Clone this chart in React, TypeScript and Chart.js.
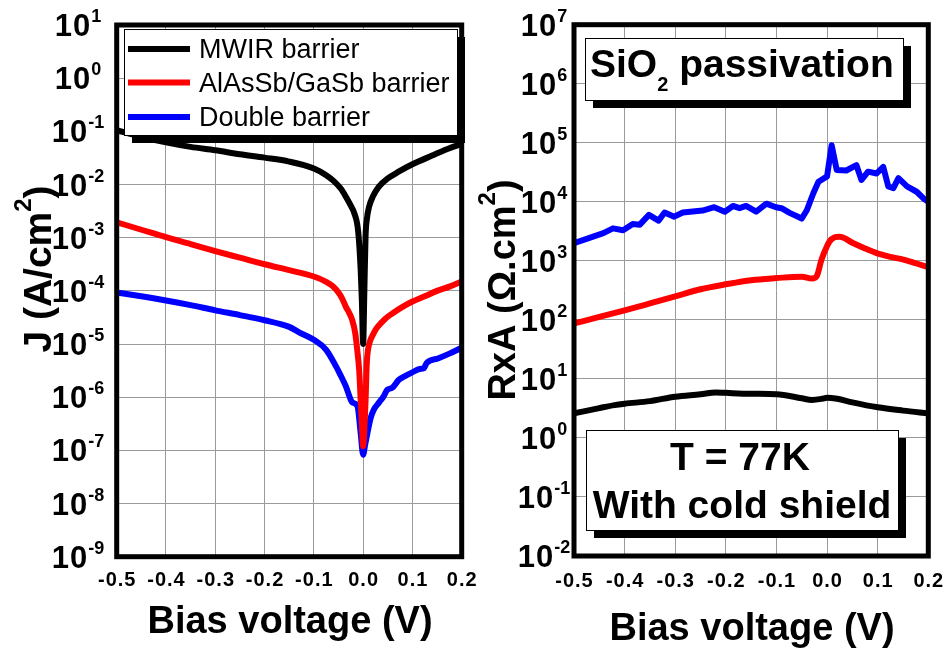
import React, { useEffect, useRef } from 'react';
import { Chart, registerables } from 'chart.js';

Chart.register(...registerables);

const FONT = '"Liberation Sans", Arial, Helvetica, sans-serif';

// ---------- shared axis data ----------
const xTickValues = [-0.5, -0.4, -0.3, -0.2, -0.1, 0, 0.1, 0.2];
const xTickLabels = ['-0.5', '-0.4', '-0.3', '-0.2', '-0.1', '0.0', '0.1', '0.2'];

const seriesNames = ['MWIR barrier', 'AlAsSb/GaSb barrier', 'Double barrier'];
const seriesColors = ['#000000', '#ff0000', '#0000ff'];

// ---------- left panel: J (A/cm2) ----------
const jTickValues = [1e-9, 1e-8, 1e-7, 1e-6, 1e-5, 1e-4, 1e-3, 1e-2, 1e-1, 1e0, 1e1];
const jTickExps = ['-9', '-8', '-7', '-6', '-5', '-4', '-3', '-2', '-1', '0', '1'];

const jMwirV = [-0.5, -0.45, -0.4, -0.35, -0.3, -0.25, -0.2, -0.15, -0.1, -0.075, -0.06, -0.045, -0.035, -0.025, -0.018, -0.01, -0.005, -0.0025, 0, 0.0025, 0.005, 0.0075, 0.012, 0.02, 0.032, 0.05, 0.072, 0.1, 0.14, 0.17, 0.2];
const jMwirJ = [1.05e-1, 7.9e-2, 6.2e-2, 5.1e-2, 4.4e-2, 3.7e-2, 3.2e-2, 2.7e-2, 2.0e-2, 1.5e-2, 1.17e-2, 8.3e-3, 5.9e-3, 4.0e-3, 2.9e-3, 1.3e-3, 2.5e-4, 6.3e-5, 1.0e-5, 1.0e-4, 1.1e-3, 2.2e-3, 3.8e-3, 6.0e-3, 9.1e-3, 1.3e-2, 1.74e-2, 2.4e-2, 3.5e-2, 4.6e-2, 5.8e-2];

const jAlV = [-0.5, -0.45, -0.4, -0.35, -0.3, -0.25, -0.2, -0.15, -0.1, -0.075, -0.062, -0.05, -0.042, -0.035, -0.028, -0.022, -0.016, -0.012, -0.008, -0.005, -0.0025, 0, 0.0025, 0.005, 0.0075, 0.01, 0.015, 0.02, 0.026, 0.035, 0.045, 0.06, 0.08, 0.1, 0.125, 0.15, 0.175, 0.2];
const jAlJ = [1.95e-3, 1.41e-3, 1.02e-3, 7.6e-4, 5.6e-4, 4.2e-4, 3.16e-4, 2.45e-4, 1.86e-4, 1.48e-4, 1.23e-4, 9.3e-5, 7.0e-5, 5.0e-5, 3.8e-5, 2.8e-5, 1.6e-5, 7.8e-6, 3.2e-6, 8.9e-7, 3.2e-7, 1.2e-7, 2.5e-7, 8.9e-7, 4.5e-6, 7.9e-6, 1.2e-5, 1.5e-5, 1.9e-5, 2.4e-5, 3.0e-5, 3.8e-5, 5.0e-5, 6.3e-5, 7.9e-5, 1.0e-4, 1.2e-4, 1.5e-4];

const jDblV = [-0.5, -0.45, -0.4, -0.35, -0.3, -0.25, -0.2, -0.15, -0.13, -0.1, -0.075, -0.055, -0.045, -0.035, -0.025, -0.0215, -0.0115, -0.005, 0, 0.004, 0.0087, 0.015, 0.022, 0.032, 0.042, 0.049, 0.059, 0.072, 0.085, 0.099, 0.115, 0.123, 0.129, 0.153, 0.175, 0.2];
const jDblJ = [9.3e-5, 7.9e-5, 6.6e-5, 5.4e-5, 4.3e-5, 3.5e-5, 2.8e-5, 2.1e-5, 1.66e-5, 1.2e-5, 7.8e-6, 3.8e-6, 2.5e-6, 1.6e-6, 8.9e-7, 7.9e-7, 6.8e-7, 2.1e-7, 8.3e-8, 1.26e-7, 2.1e-7, 4.0e-7, 5.9e-7, 7.9e-7, 1.05e-6, 1.38e-6, 1.5e-6, 2.1e-6, 2.5e-6, 2.9e-6, 3.4e-6, 3.5e-6, 4.4e-6, 5.4e-6, 6.6e-6, 8.5e-6];

// ---------- right panel: RxA (Ohm.cm2) ----------
const raTickValues = [1e-2, 1e-1, 1e0, 1e1, 1e2, 1e3, 1e4, 1e5, 1e6, 1e7];
const raTickExps = ['-2', '-1', '0', '1', '2', '3', '4', '5', '6', '7'];

const raMwirV = [-0.5, -0.45, -0.42, -0.4, -0.35, -0.3, -0.25, -0.22, -0.2, -0.15, -0.1, -0.05, -0.03, -0.01, 0.0, 0.02, 0.05, 0.1, 0.15, 0.2];
const raMwirR = [2.6, 3.2, 3.6, 3.8, 4.2, 5.0, 5.5, 5.9, 5.8, 5.6, 5.5, 4.7, 4.4, 4.6, 4.8, 4.6, 4.0, 3.3, 2.9, 2.6];

const raAlV = [-0.5, -0.45, -0.4, -0.35, -0.3, -0.25, -0.2, -0.15, -0.1, -0.05, -0.03, -0.02, -0.011, 0, 0.005, 0.015, 0.025, 0.051, 0.075, 0.098, 0.125, 0.151, 0.175, 0.2];
const raAlR = [87, 112, 145, 190, 250, 330, 400, 470, 510, 540, 500, 560, 1050, 1780, 2140, 2500, 2570, 2000, 1620, 1350, 1170, 1050, 910, 780];

const raDblV = [-0.5, -0.442, -0.423, -0.403, -0.384, -0.37, -0.352, -0.333, -0.321, -0.302, -0.285, -0.246, -0.223, -0.202, -0.186, -0.173, -0.16, -0.14, -0.12, -0.101, -0.09, -0.074, -0.05, -0.04, -0.027, -0.017, 0, 0.009, 0.019, 0.038, 0.058, 0.068, 0.081, 0.098, 0.111, 0.121, 0.131, 0.141, 0.158, 0.177, 0.19, 0.2];
const raDblR = [2000, 2950, 3550, 3300, 4200, 4100, 6000, 4800, 6600, 5600, 6600, 7100, 8100, 6800, 8500, 7800, 8500, 6800, 9300, 8100, 7800, 6500, 5200, 7200, 14100, 21900, 26900, 91000, 34700, 33900, 41700, 23400, 32400, 30200, 38900, 18200, 17000, 25100, 18200, 14800, 11500, 10000];

// ---------- helpers ----------
const pts = (xs: number[], ys: number[]) => xs.map((x, i) => ({ x, y: ys[i] }));

type Seg = { text: string; size: number; dy?: number; bold?: boolean; spacing?: number };

function segFont(s: Seg) {
  return `${s.bold === false ? '' : 'bold '}${s.size}px ${FONT}`;
}

function setSeg(ctx: CanvasRenderingContext2D, s: Seg) {
  ctx.font = segFont(s);
  (ctx as any).letterSpacing = `${s.spacing || 0}px`;
}

function drawRich(ctx: CanvasRenderingContext2D, segs: Seg[], x: number, y: number, align: 'left' | 'center') {
  let w = 0;
  for (const s of segs) {
    setSeg(ctx, s);
    w += ctx.measureText(s.text).width;
  }
  let cx = align === 'center' ? x - w / 2 : x;
  ctx.textAlign = 'left';
  ctx.textBaseline = 'alphabetic';
  for (const s of segs) {
    setSeg(ctx, s);
    ctx.fillText(s.text, cx, y + (s.dy || 0));
    cx += ctx.measureText(s.text).width;
  }
  (ctx as any).letterSpacing = '0px';
}

function shadowBox(ctx: CanvasRenderingContext2D, x: number, y: number, w: number, h: number) {
  ctx.fillStyle = '#000';
  ctx.fillRect(x + 8, y + 8, w, h);
  ctx.fillStyle = '#fff';
  ctx.fillRect(x, y, w, h);
  ctx.strokeStyle = '#000';
  ctx.lineWidth = 1;
  ctx.strokeRect(x + 0.5, y + 0.5, w, h);
}

interface Deco {
  yTickValues: number[];
  yTickExps: string[];
  yTickX: number;
  xTickBaseline: number;
  yTitle: Seg[];
  yTitleX: number;
  yTitleY: number;
  xTitleX: number;
  xTitleY: number;
  extra: (ctx: CanvasRenderingContext2D, chart: any) => void;
}

function makeDeco(d: Deco) {
  return {
    id: 'deco',
    afterDraw(chart: any) {
      const ctx: CanvasRenderingContext2D = chart.ctx;
      const area = chart.chartArea;
      const xs = chart.scales.x;
      const ys = chart.scales.y;
      ctx.save();
      d.extra(ctx, chart);
      ctx.strokeStyle = '#000';
      ctx.lineWidth = 5;
      ctx.lineJoin = 'miter';
      ctx.strokeRect(area.left, area.top, area.right - area.left, area.bottom - area.top);
      ctx.fillStyle = '#000';
      d.yTickValues.forEach((v, i) => {
        const py = ys.getPixelForValue(v);
        drawRich(ctx, [
          { text: '10', size: 31, spacing: 1 },
          { text: d.yTickExps[i], size: 18, dy: -14 },
        ], d.yTickX, py + 11, 'center');
      });
      xTickValues.forEach((v, i) => {
        const px = xs.getPixelForValue(v);
        drawRich(ctx, [{ text: xTickLabels[i], size: 20, spacing: 1 }], px + 0.5, d.xTickBaseline, 'center');
      });
      drawRich(ctx, [{ text: 'Bias voltage (V)', size: 38 }], d.xTitleX, d.xTitleY, 'center');
      ctx.save();
      ctx.translate(d.yTitleX, d.yTitleY);
      ctx.rotate(-Math.PI / 2);
      drawRich(ctx, d.yTitle, 0, 0, 'center');
      ctx.restore();
      ctx.restore();
    },
  };
}

function baseOptions(yMin: number, yMax: number, yTicks: number[], padding: any) {
  const grid = { color: '#9a9a9a', lineWidth: 1, drawTicks: false };
  return {
    animation: false,
    responsive: false,
    maintainAspectRatio: false,
    events: [],
    layout: { padding },
    plugins: { legend: { display: false }, tooltip: { enabled: false }, title: { display: false } },
    elements: { point: { radius: 0 } },
    scales: {
      x: {
        type: 'linear',
        min: -0.5,
        max: 0.2,
        grid,
        border: { display: false },
        ticks: { display: false },
        afterBuildTicks: (s: any) => { s.ticks = xTickValues.map((v) => ({ value: v })); },
        afterFit: (s: any) => { s.height = 0; },
      },
      y: {
        type: 'logarithmic',
        min: yMin,
        max: yMax,
        grid,
        border: { display: false },
        ticks: { display: false },
        afterBuildTicks: (s: any) => { s.ticks = yTicks.map((v) => ({ value: v })); },
        afterFit: (s: any) => { s.width = 0; },
      },
    },
  } as any;
}

function ds(i: number, data: any[], smooth: boolean) {
  return {
    label: seriesNames[i],
    data,
    borderColor: seriesColors[i],
    backgroundColor: seriesColors[i],
    borderWidth: 6,
    pointRadius: 0,
    fill: false,
    borderJoinStyle: 'round',
    borderCapStyle: 'round',
    cubicInterpolationMode: smooth ? 'monotone' : 'default',
    tension: 0,
  };
}

export default function App() {
  const leftRef = useRef<HTMLCanvasElement>(null);
  const rightRef = useRef<HTMLCanvasElement>(null);

  useEffect(() => {
    const leftDeco = makeDeco({
      yTickValues: jTickValues,
      yTickExps: jTickExps,
      yTickX: 78,
      xTickBaseline: 586,
      yTitle: [
        { text: 'J (A/cm', size: 39 },
        { text: '2', size: 24, dy: -20 },
        { text: ')', size: 39 },
      ],
      yTitleX: 51,
      yTitleY: 269,
      xTitleX: 290,
      xTitleY: 633,
      extra: (ctx, chart) => {
        shadowBox(ctx, 124, 29, 333, 106);
        const rows = [49, 82.5, 117];
        chart.data.datasets.forEach((d: any, i: number) => {
          ctx.strokeStyle = d.borderColor;
          ctx.lineWidth = 6;
          ctx.lineCap = 'butt';
          ctx.beginPath();
          ctx.moveTo(128, rows[i]);
          ctx.lineTo(190, rows[i]);
          ctx.stroke();
          ctx.fillStyle = '#000';
          drawRich(ctx, [{ text: d.label, size: 27, bold: false }], 199, rows[i] + 9, 'left');
        });
      },
    });

    const rightDeco = makeDeco({
      yTickValues: raTickValues,
      yTickExps: raTickExps,
      yTickX: 74,
      xTickBaseline: 586.5,
      yTitle: [
        { text: 'RxA (\u03A9.cm', size: 38 },
        { text: '2', size: 24, dy: -20 },
        { text: ')', size: 38 },
      ],
      yTitleX: 45,
      yTitleY: 290,
      xTitleX: 282,
      xTitleY: 640,
      extra: (ctx) => {
        shadowBox(ctx, 115, 38, 318, 62);
        ctx.fillStyle = '#000';
        drawRich(ctx, [
          { text: 'SiO', size: 39 },
          { text: '2', size: 20, dy: 14 },
          { text: ' passivation', size: 39 },
        ], 120, 77, 'left');
        shadowBox(ctx, 116, 430, 312, 100);
        ctx.fillStyle = '#000';
        drawRich(ctx, [{ text: 'T = 77K', size: 39 }], 270, 470, 'center');
        drawRich(ctx, [{ text: 'With cold shield', size: 39 }], 272, 518, 'center');
      },
    });

    const left = new Chart(leftRef.current as HTMLCanvasElement, {
      type: 'line',
      data: {
        datasets: [
          ds(0, pts(jMwirV, jMwirJ), true),
          ds(1, pts(jAlV, jAlJ), true),
          ds(2, pts(jDblV, jDblJ), true),
        ],
      } as any,
      options: baseOptions(1e-9, 10, jTickValues, { left: 116.7, top: 25, right: 28.3, bottom: 93.3 }),
      plugins: [leftDeco as any],
    });

    const right = new Chart(rightRef.current as HTMLCanvasElement, {
      type: 'line',
      data: {
        datasets: [
          ds(0, pts(raMwirV, raMwirR), true),
          ds(1, pts(raAlV, raAlR), true),
          ds(2, pts(raDblV, raDblR), false),
        ],
      } as any,
      options: baseOptions(1e-2, 1e7, raTickValues, { left: 104, top: 24.7, right: 19.7, bottom: 94 }),
      plugins: [rightDeco as any],
    });

    return () => {
      left.destroy();
      right.destroy();
    };
  }, []);

  return (
    <div style={{ position: 'absolute', left: 0, top: 0, width: 948, height: 650, background: '#fff' }}>
      <canvas ref={leftRef} width={490} height={650} style={{ position: 'absolute', left: 0, top: 0, width: 490, height: 650 }} />
      <canvas ref={rightRef} width={478} height={650} style={{ position: 'absolute', left: 470, top: 0, width: 478, height: 650 }} />
    </div>
  );
}
